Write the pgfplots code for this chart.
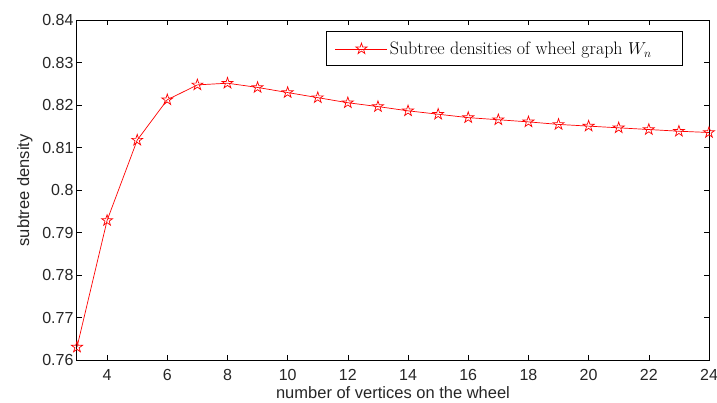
\documentclass[border=0pt]{standalone}
\usepackage{pgfplots}
\pgfplotsset{compat=1.18}
\usepackage{fontspec}
\newfontfamily\arial{Liberation Sans}
\pgfdeclareplotmark{pentagram}{%
  \pgfpathmoveto{\pgfpointpolar{90}{\pgfplotmarksize}}%
  \pgfpathlineto{\pgfpointpolar{126}{0.382\pgfplotmarksize}}%
  \pgfpathlineto{\pgfpointpolar{162}{\pgfplotmarksize}}%
  \pgfpathlineto{\pgfpointpolar{198}{0.382\pgfplotmarksize}}%
  \pgfpathlineto{\pgfpointpolar{234}{\pgfplotmarksize}}%
  \pgfpathlineto{\pgfpointpolar{270}{0.382\pgfplotmarksize}}%
  \pgfpathlineto{\pgfpointpolar{306}{\pgfplotmarksize}}%
  \pgfpathlineto{\pgfpointpolar{342}{0.382\pgfplotmarksize}}%
  \pgfpathlineto{\pgfpointpolar{18}{\pgfplotmarksize}}%
  \pgfpathlineto{\pgfpointpolar{54}{0.382\pgfplotmarksize}}%
  \pgfpathclose
  \pgfusepathqstroke
}
\begin{document}
\begin{tikzpicture}
\useasboundingbox (-77bp,-42.7bp) rectangle (640bp,360.3bp);
\begin{axis}[
  scale only axis,
  width=632bp, height=340bp,
  xmin=3, xmax=24, ymin=0.76, ymax=0.84,
  xtick={4,6,...,24},
  ytick={0.76,0.77,...,0.841},
  yticklabel style={/pgf/number format/fixed,/pgf/number format/precision=2},
  xticklabel style={yshift=-6bp},
  /pgf/number format/assume math mode=true,
  ticklabel style={font=\arial\fontsize{16bp}{18bp}\selectfont, text=black!85},
  every axis x label/.append style={font=\arial\fontsize{16.5bp}{18bp}\selectfont, text=black!85},
  every axis y label/.append style={font=\arial\fontsize{16.5bp}{18bp}\selectfont, text=black!85},
  tick align=inside,
  major tick length=5bp,
  axis line style={line width=1bp},
  tick style={black, line width=0.6bp},
  xlabel={number of vertices on the wheel},
  ylabel={subtree density},
  xlabel style={yshift=1bp},
  ylabel style={yshift=3bp},
  legend style={at={(0.9589,0.9676)}, anchor=north east, draw=black, line width=1bp,
    font=\fontsize{18bp}{20bp}\selectfont, inner xsep=9bp, inner ysep=8bp, legend cell align=left},
  legend image code/.code={\draw[mark repeat=2,mark phase=2] plot coordinates {(0bp,0bp) (26bp,0bp) (52bp,0bp)};},
]
\addplot[red, line width=0.7bp, mark=pentagram, mark size=5.8bp, mark options={solid, line width=0.7bp}]
  coordinates {
  (3,0.7631) (4,0.7929) (5,0.8118) (6,0.8213) (7,0.8248) (8,0.8252)
  (9,0.8242) (10,0.8230) (11,0.8218) (12,0.8206) (13,0.8197) (14,0.8187)
  (15,0.8179) (16,0.8171) (17,0.8166) (18,0.8161) (19,0.8155) (20,0.8151)
  (21,0.8147) (22,0.8143) (23,0.8139) (24,0.8136)
  };
\addlegendentry{Subtree densities of wheel graph $W_n$\hspace*{20bp}}
\end{axis}
\end{tikzpicture}
\end{document}
